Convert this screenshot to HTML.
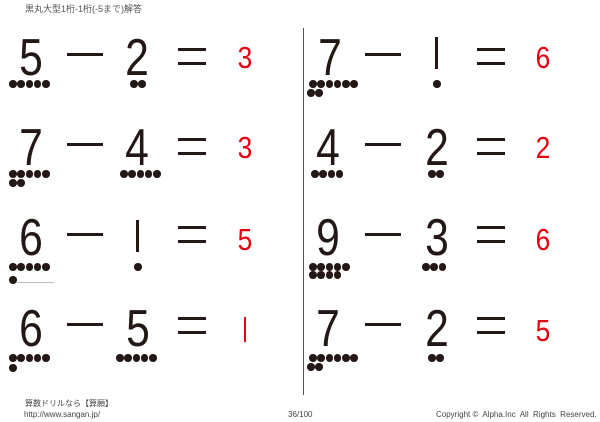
<!DOCTYPE html>
<html><head><meta charset="utf-8"><style>
body{margin:0;width:600px;height:422px;background:#fff;position:relative;overflow:hidden;font-family:"Liberation Sans","Noto Sans CJK JP",sans-serif}
.a{position:absolute}
.d{position:absolute;width:50px;text-align:center;font-size:52px;line-height:52px;color:#231815;transform:scaleX(0.82)}
.r{position:absolute;width:40px;text-align:center;font-size:31px;line-height:31px;color:#e60012;transform:scaleX(0.85)}
.m{position:absolute;height:3px;background:#231815;width:36px}
.e{position:absolute;width:28px;height:11px;border-top:3px solid #231815;border-bottom:3px solid #231815}
.dots{position:absolute;display:flex;gap:0.8px}
.dots i{width:7.5px;height:7.5px;border-radius:50%;background:#231815;display:block}
.t{position:absolute;font-size:8px;color:#444;white-space:nowrap}
.one{position:absolute;width:3px;height:32px;background:#231815}
</style></head><body>
<div class="t" style="left:25px;top:2px;font-size:9px;color:#555">黒丸大型1桁-1桁(-5まで)解答</div>
<div class="a" style="left:303px;top:28px;width:1px;height:367px;background:#555"></div>

<div class="d" style="left:6px;top:32px">5</div>
<div class="dots" style="left:9px;top:80px"><i></i><i></i><i></i><i></i><i></i></div>
<div class="m" style="left:67px;top:53px"></div>
<div class="d" style="left:112px;top:32px">2</div>
<div class="dots" style="left:130px;top:80px"><i></i><i></i></div>
<div class="e" style="left:178px;top:48px"></div>
<div class="r" style="left:225px;top:42px">3</div>

<div class="d" style="left:305px;top:32px">7</div>
<div class="dots" style="left:309px;top:80px"><i></i><i></i><i></i><i></i><i></i><i></i></div>
<div class="dots" style="left:307px;top:89px"><i></i><i></i></div>
<div class="m" style="left:365px;top:53px"></div>
<div class="one" style="left:435px;top:37px"></div>
<div class="dots" style="left:433px;top:80px"><i></i></div>
<div class="e" style="left:477px;top:48px"></div>
<div class="r" style="left:523px;top:42px">6</div>

<div class="d" style="left:6px;top:122px">7</div>
<div class="dots" style="left:9px;top:170px"><i></i><i></i><i></i><i></i><i></i></div>
<div class="dots" style="left:9px;top:179px"><i></i><i></i></div>
<div class="m" style="left:67px;top:143px"></div>
<div class="d" style="left:112px;top:122px">4</div>
<div class="dots" style="left:120px;top:170px"><i></i><i></i><i></i><i></i><i></i></div>
<div class="e" style="left:178px;top:138px"></div>
<div class="r" style="left:225px;top:132px">3</div>

<div class="d" style="left:303px;top:122px">4</div>
<div class="dots" style="left:311px;top:170px"><i></i><i></i><i></i><i></i></div>
<div class="m" style="left:365px;top:143px"></div>
<div class="d" style="left:412px;top:122px">2</div>
<div class="dots" style="left:428px;top:170px"><i></i><i></i></div>
<div class="e" style="left:477px;top:138px"></div>
<div class="r" style="left:523px;top:132px">2</div>

<div class="d" style="left:6px;top:212px">6</div>
<div class="dots" style="left:9px;top:263px"><i></i><i></i><i></i><i></i><i></i></div>
<div class="dots" style="left:9px;top:276px"><i></i></div>
<div class="a" style="left:17px;top:282px;width:37px;height:1px;background:#bbb"></div>
<div class="m" style="left:67px;top:233px"></div>
<div class="one" style="left:136px;top:220px"></div>
<div class="dots" style="left:134px;top:263px"><i></i></div>
<div class="e" style="left:178px;top:226px"></div>
<div class="r" style="left:225px;top:224px">5</div>

<div class="d" style="left:303px;top:212px">9</div>
<div class="dots" style="left:309px;top:263px"><i></i><i></i><i></i><i></i><i></i></div>
<div class="dots" style="left:309px;top:271px"><i></i><i></i><i></i><i></i></div>
<div class="m" style="left:365px;top:233px"></div>
<div class="d" style="left:412px;top:212px">3</div>
<div class="dots" style="left:422px;top:263px"><i></i><i></i><i></i></div>
<div class="e" style="left:477px;top:226px"></div>
<div class="r" style="left:523px;top:224px">6</div>

<div class="d" style="left:6px;top:303px">6</div>
<div class="dots" style="left:9px;top:354px"><i></i><i></i><i></i><i></i><i></i></div>
<div class="dots" style="left:9px;top:364px"><i></i></div>
<div class="m" style="left:67px;top:323px"></div>
<div class="d" style="left:113px;top:303px">5</div>
<div class="dots" style="left:116px;top:354px"><i></i><i></i><i></i><i></i><i></i></div>
<div class="e" style="left:178px;top:317px"></div>
<div class="a" style="left:244px;top:317px;width:2px;height:25px;background:#e60012"></div>

<div class="d" style="left:303px;top:303px">7</div>
<div class="dots" style="left:309px;top:354px"><i></i><i></i><i></i><i></i><i></i><i></i></div>
<div class="dots" style="left:307px;top:363px"><i></i><i></i></div>
<div class="m" style="left:365px;top:323px"></div>
<div class="d" style="left:412px;top:303px">2</div>
<div class="dots" style="left:428px;top:354px"><i></i><i></i></div>
<div class="e" style="left:477px;top:317px"></div>
<div class="r" style="left:523px;top:315px">5</div>

<div class="t" style="left:25px;top:398px">算数ドリルなら【算願】</div>
<div class="t" style="left:24px;top:410px">http://www.sangan.jp/</div>
<div class="t" style="left:288px;top:410px">36/100</div>
<div class="t" style="left:436px;top:410px">Copyright ©&nbsp; Alpha.Inc&nbsp; All&nbsp; Rights&nbsp; Reserved.</div>
</body></html>
